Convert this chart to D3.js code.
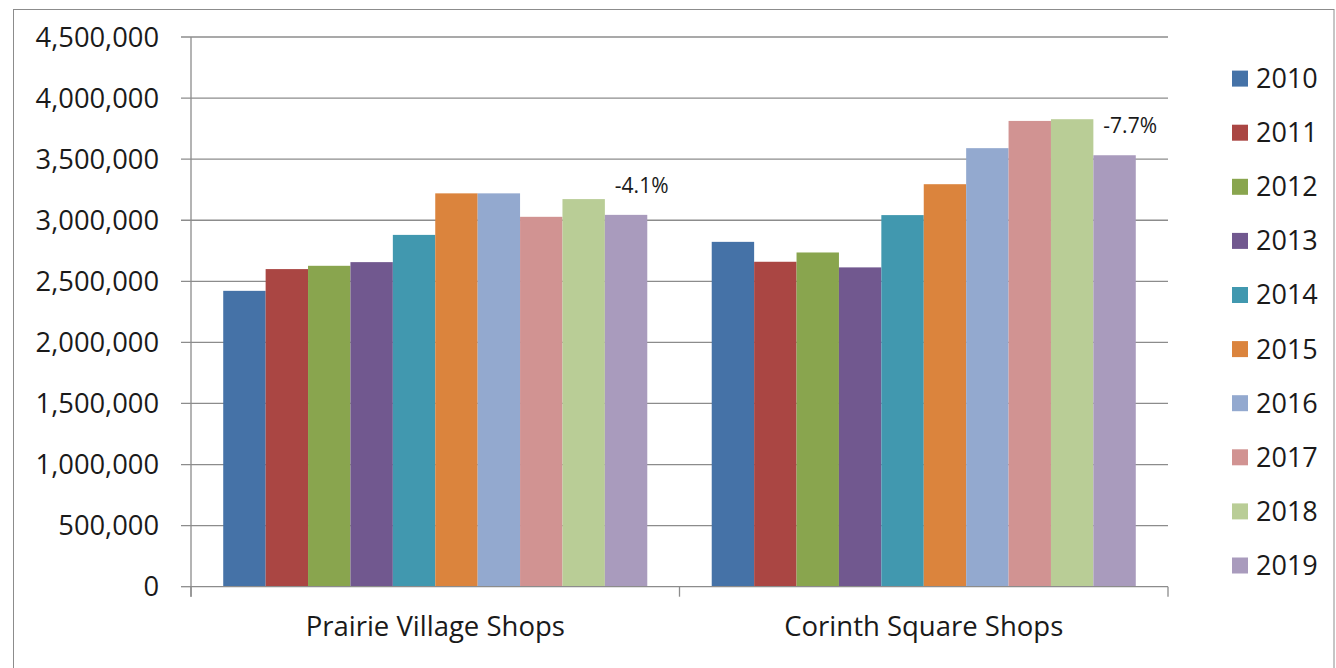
<!DOCTYPE html>
<html lang="en">
<head>
    <meta charset="UTF-8">
    <title>Shops by year</title>
    <script src="https://d3js.org/d3.v7.min.js"></script>
    <style>
        body { margin: 0; background: white; font-family: "Open Sans", sans-serif; }
        svg { display: block; }
        .tick-label { font-size: 27.3px; fill: #1a1a1a; }
        .cat-label { font-size: 27.5px; fill: #1a1a1a; }
        .legend-label { font-size: 27px; fill: #1a1a1a; }
        .note { font-size: 21px; fill: #1a1a1a; }
    </style>
</head>
<body>
    <svg id="chart" width="1336" height="668"></svg>

    <script>
        const categories = ["Prairie Village Shops", "Corinth Square Shops"];
        const years = ["2010", "2011", "2012", "2013", "2014", "2015", "2016", "2017", "2018", "2019"];
        const prairieValues = [2422000, 2600000, 2627000, 2657000, 2880000, 3220000, 3220000, 3028000, 3173000, 3044000];
        const corinthValues = [2823000, 2660000, 2736000, 2614000, 3042000, 3295000, 3590000, 3813000, 3827000, 3532000];
        const yearColors = ["#4572A7", "#AA4643", "#89A54E", "#71588F", "#4198AF",
                            "#DB843D", "#93A9CF", "#D19392", "#B9CD96", "#A99BBD"];
        const yTicks = [0, 500000, 1000000, 1500000, 2000000, 2500000, 3000000, 3500000, 4000000, 4500000];
        const changeLabels = ["-4.1%", "-7.7%"];

        const seriesByCat = [prairieValues, corinthValues];

        const svg = d3.select("#chart");

        // outer chart frame
        svg.append("rect")
            .attr("x", 13.5).attr("y", 9.5)
            .attr("width", 1320.5).attr("height", 680)
            .attr("fill", "none")
            .attr("stroke", "#8c8c8c");

        const plotLeft = 191, plotRight = 1168, plotTop = 37, plotBottom = 586.7;

        const y = d3.scaleLinear().domain([0, 4500000]).range([plotBottom, plotTop]);
        const x0 = d3.scaleBand().domain(categories).range([plotLeft, plotRight]);
        const x1 = d3.scaleBand().domain(years).range([0, x0.bandwidth()])
            .paddingInner(0).paddingOuter(0.76);
        const color = d3.scaleOrdinal().domain(years).range(yearColors);

        // gridlines + y tick marks
        svg.append("g").selectAll("line")
            .data(yTicks.filter(d => d > 0))
            .enter().append("line")
            .attr("x1", plotLeft - 10).attr("x2", plotRight)
            .attr("y1", d => y(d)).attr("y2", d => y(d))
            .attr("stroke", "#8c8c8c").attr("stroke-width", 1.3);

        svg.append("g").selectAll("line")
            .data([0])
            .enter().append("line")
            .attr("x1", plotLeft - 10).attr("x2", plotLeft)
            .attr("y1", d => y(d)).attr("y2", d => y(d))
            .attr("stroke", "#8c8c8c").attr("stroke-width", 1.3);

        svg.append("g").selectAll("text")
            .data(yTicks)
            .enter().append("text")
            .attr("class", "tick-label")
            .attr("x", plotLeft - 32)
            .attr("y", d => y(d))
            .attr("dy", "0.35em")
            .attr("text-anchor", "end")
            .text(d => d3.format(",")(d));

        // bars
        const groups = svg.append("g").selectAll("g")
            .data(categories)
            .enter().append("g")
            .attr("transform", d => `translate(${x0(d)},0)`);

        groups.selectAll("rect")
            .data((d, i) => years.map((yr, j) => ({ year: yr, value: seriesByCat[i][j] })))
            .enter().append("rect")
            .attr("x", d => x1(d.year))
            .attr("width", x1.bandwidth())
            .attr("y", d => y(d.value))
            .attr("height", d => y(0) - y(d.value))
            .attr("fill", d => color(d.year));

        // change labels over last bar
        groups.append("text")
            .attr("class", "note")
            .attr("x", x1(years[years.length - 1]) + 10)
            .attr("y", (d, i) => y(seriesByCat[i][years.length - 1]) - 22)
            .text((d, i) => changeLabels[i]);

        // axes
        svg.append("line")
            .attr("x1", plotLeft).attr("x2", plotLeft)
            .attr("y1", plotTop).attr("y2", plotBottom + 10)
            .attr("stroke", "#8c8c8c").attr("stroke-width", 1.3);

        svg.append("line")
            .attr("x1", plotLeft).attr("x2", plotRight)
            .attr("y1", plotBottom).attr("y2", plotBottom)
            .attr("stroke", "#8c8c8c").attr("stroke-width", 1.3);

        svg.append("g").selectAll("line")
            .data(categories.concat(["end"]))
            .enter().append("line")
            .attr("x1", d => d === "end" ? plotRight : x0(d))
            .attr("x2", d => d === "end" ? plotRight : x0(d))
            .attr("y1", plotBottom).attr("y2", plotBottom + 10)
            .attr("stroke", "#8c8c8c").attr("stroke-width", 1.3);

        svg.append("g").selectAll("text")
            .data(categories)
            .enter().append("text")
            .attr("class", "cat-label")
            .attr("x", d => x0(d) + x0.bandwidth() / 2)
            .attr("y", 636)
            .attr("text-anchor", "middle")
            .text(d => d);

        // legend
        const legend = svg.append("g").selectAll("g")
            .data(years)
            .enter().append("g")
            .attr("transform", (d, i) => `translate(1232,${78.6 + i * 54.1})`);

        legend.append("rect")
            .attr("x", 0).attr("y", -8)
            .attr("width", 16).attr("height", 16)
            .attr("fill", d => color(d));

        legend.append("text")
            .attr("class", "legend-label")
            .attr("x", 24)
            .attr("dy", "0.35em")
            .text(d => d);
    </script>
</body>
</html>
